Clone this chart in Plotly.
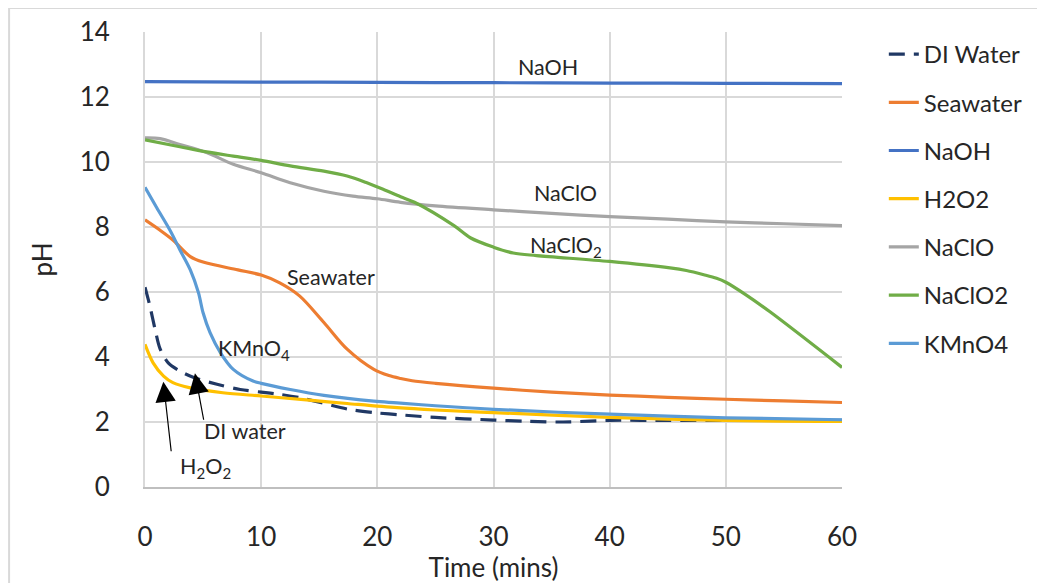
import plotly.graph_objects as go

# ---- data ----
di_t = [0, 0.4, 0.9, 1.3, 2, 3, 4.2, 6.2, 8.2, 10, 11.6, 13.3, 15.1, 17.4, 19.7, 22, 25, 30, 33, 36, 40, 45, 50, 55, 60]
di_ph = [6.15, 5.6, 4.8, 4.25, 3.82, 3.57, 3.37, 3.16, 3.0, 2.92, 2.85, 2.75, 2.6, 2.4, 2.29, 2.22, 2.14, 2.06, 2.02, 2.0, 2.05, 2.05, 2.05, 2.05, 2.05]

sea_t = [0, 1.3, 2.4, 3.9, 5, 8, 10, 11.6, 13.3, 15.4, 17.4, 19.7, 21, 22, 23, 25, 30, 35, 40, 45, 50, 55, 60]
sea_ph = [8.22, 7.9, 7.6, 7.09, 6.92, 6.68, 6.52, 6.28, 5.88, 5.06, 4.24, 3.62, 3.43, 3.34, 3.27, 3.19, 3.04, 2.92, 2.83, 2.76, 2.7, 2.65, 2.6]

naoh_t = [0, 10, 20, 30, 40, 50, 60]
naoh_ph = [12.47, 12.46, 12.45, 12.44, 12.43, 12.42, 12.41]

h2o2_t = [0, 0.7, 1.6, 2.4, 3.9, 6.7, 10, 13.9, 17.4, 21.7, 25, 30, 40, 50, 60]
h2o2_ph = [4.39, 3.82, 3.41, 3.21, 3.05, 2.9, 2.8, 2.68, 2.57, 2.44, 2.37, 2.29, 2.14, 2.05, 2.02]

naclo_t = [0, 1.3, 3, 5.3, 7.6, 10, 12.5, 15.4, 17.9, 20, 22, 25, 30, 35, 40, 45, 50, 55, 60]
naclo_ph = [10.74, 10.72, 10.54, 10.29, 9.93, 9.67, 9.36, 9.1, 8.95, 8.87, 8.76, 8.65, 8.53, 8.42, 8.32, 8.24, 8.16, 8.1, 8.04]

naclo2_t = [0, 3, 5.3, 7.6, 10, 12.5, 15.4, 17.4, 19.1, 20.5, 22, 23.2, 26.6, 28, 30, 31.7, 33.7, 40, 45.2, 46.6, 48.1, 49.2, 50, 51.7, 53.8, 60]
naclo2_ph = [10.68, 10.47, 10.31, 10.18, 10.05, 9.88, 9.72, 9.57, 9.36, 9.16, 8.93, 8.76, 8.04, 7.67, 7.38, 7.2, 7.12, 6.94, 6.74, 6.66, 6.53, 6.42, 6.3, 5.92, 5.39, 3.68]

kmno4_t = [0, 1, 2.15, 3, 3.9, 4.6, 5, 5.6, 6.5, 7.6, 9.3, 10, 12.5, 15.4, 19.7, 21.7, 25, 30, 40, 50, 60]
kmno4_ph = [9.22, 8.6, 7.9, 7.3, 6.68, 5.98, 5.36, 4.75, 4.13, 3.62, 3.26, 3.19, 3.0, 2.82, 2.64, 2.59, 2.5, 2.39, 2.24, 2.13, 2.07]

series_names = ["DI Water", "Seawater", "NaOH", "H2O2", "NaClO", "NaClO2", "KMnO4"]
x_ticks = [0, 10, 20, 30, 40, 50, 60]
y_ticks = [0, 2, 4, 6, 8, 10, 12, 14]

FONT = "Lato"

series = [
    (series_names[0], di_t, di_ph, "#203864", "16px,9px"),
    (series_names[1], sea_t, sea_ph, "#ED7D31", "solid"),
    (series_names[2], naoh_t, naoh_ph, "#4472C4", "solid"),
    (series_names[3], h2o2_t, h2o2_ph, "#FFC000", "solid"),
    (series_names[4], naclo_t, naclo_ph, "#A5A5A5", "solid"),
    (series_names[5], naclo2_t, naclo2_ph, "#70AD47", "solid"),
    (series_names[6], kmno4_t, kmno4_ph, "#5B9BD5", "solid"),
]

fig = go.Figure()
for name, t, ph, color, dash in series:
    fig.add_trace(go.Scatter(
        x=t, y=ph, name=name, mode="lines", legendgroup=name,
        line=dict(color=color, width=3.2, dash=dash, shape="spline", smoothing=0.9),
    ))

# in-plot labels
labels = [
    ("NaOH", 34.7, 12.92),
    ("NaClO", 36.2, 9.05),
    ("NaClO<sub>2</sub>", 36.2, 7.4),
    ("Seawater", 16.0, 6.47),
    ("KMnO<sub>4</sub>", 9.4, 4.22),
    ("DI water", 8.6, 1.72),
    ("H<sub>2</sub>O<sub>2</sub>", 5.2, 0.6),
]
for txt, x, y in labels:
    fig.add_annotation(x=x, y=y, text=txt, showarrow=False,
                       font=dict(family=FONT, size=21.5, color="#262626"))

# arrows (tip at data, tail offset in pixels)
arrows = [
    (1.58, 3.24, 8, 71),
    (4.3, 3.5, 9, 48),
]
for x, y, ax, ay in arrows:
    fig.add_annotation(x=x, y=y, ax=ax, ay=ay, text="", showarrow=True,
                       arrowhead=2, arrowsize=3.4, arrowwidth=1.2, arrowcolor="#000000",
                       standoff=0)

# outer chart border
fig.add_shape(type="rect", xref="paper", yref="paper",
              x0=-0.195, x1=1.287, y0=-0.4, y1=1.0527,
              line=dict(color="#d9d9d9", width=2), fillcolor="rgba(0,0,0,0)", layer="below")

fig.update_layout(
    width=1037, height=575,
    margin=dict(l=137, r=203, t=24, b=96, autoexpand=False),
    paper_bgcolor="white", plot_bgcolor="white",
    font=dict(family=FONT, color="#262626"),
    showlegend=True,
    legend=dict(x=1.06, y=1.0, xanchor="left", yanchor="top",
                font=dict(family=FONT, size=24, color="#262626"),
                tracegroupgap=14, bgcolor="rgba(0,0,0,0)"),
    xaxis=dict(range=[0, 60], tickvals=x_ticks, showgrid=True, gridcolor="#d9d9d9", gridwidth=2,
               showline=True, linecolor="#bfbfbf", linewidth=2, zeroline=False,
               ticks="", ticklabelstandoff=26,
               tickfont=dict(family=FONT, size=26, color="#262626"),
               title=dict(text="Time (mins)", font=dict(family=FONT, size=26, color="#262626"), standoff=8),
               automargin=False),
    yaxis=dict(range=[0, 14], tickvals=y_ticks, showgrid=True, gridcolor="#d9d9d9", gridwidth=2,
               showline=True, linecolor="#d9d9d9", linewidth=2, zeroline=False,
               ticks="", ticklabelstandoff=28,
               tickfont=dict(family=FONT, size=26, color="#262626"),
               title=dict(text="pH", font=dict(family=FONT, size=26, color="#262626"), standoff=20),
               automargin=False),
)

fig.write_html("out.html")
